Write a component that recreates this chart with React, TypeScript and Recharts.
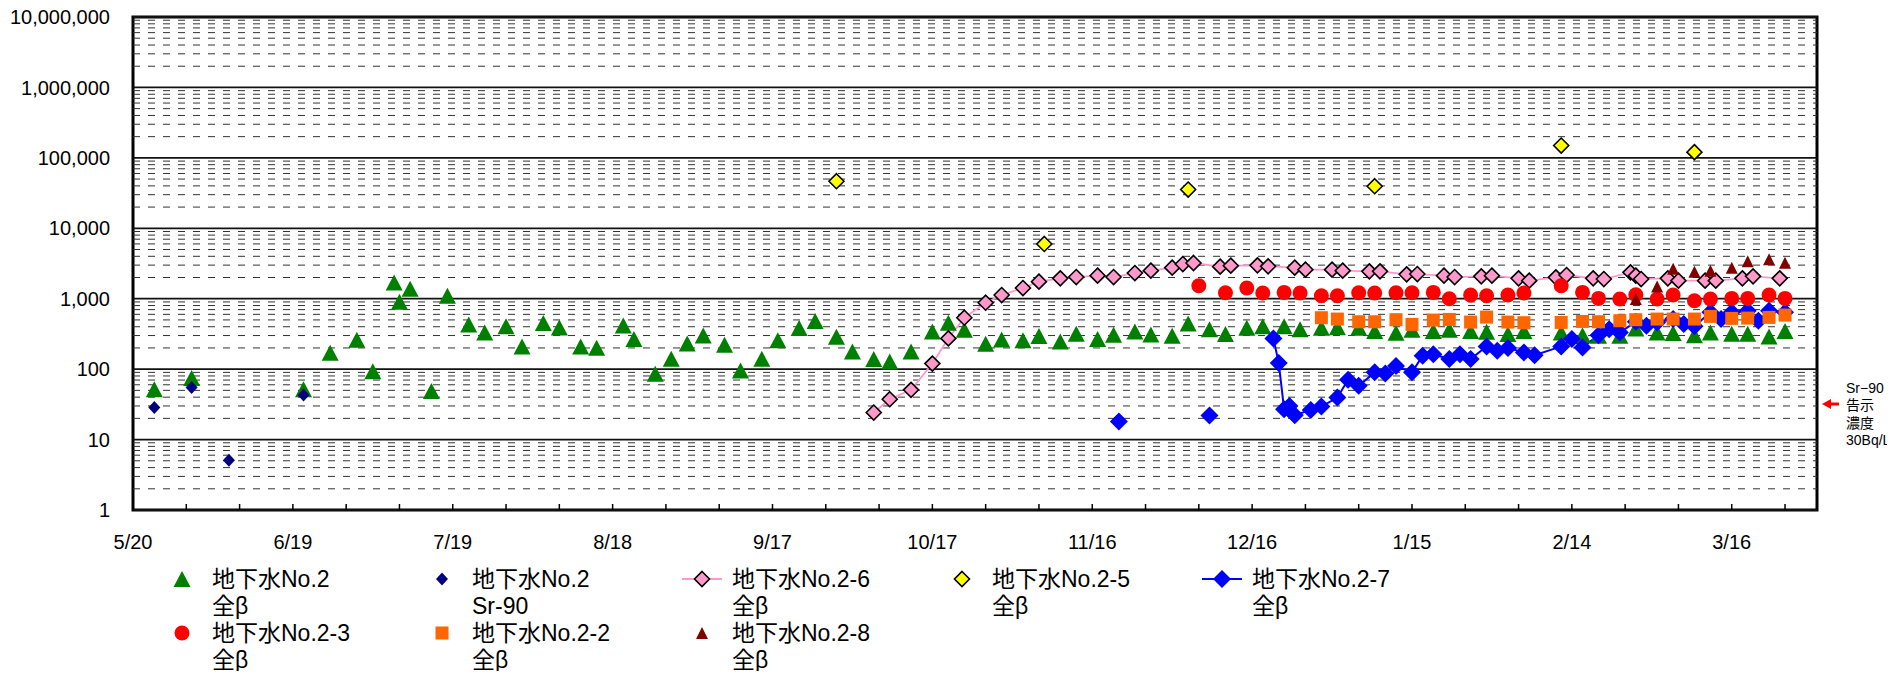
import { ComposedChart, Line, Scatter, XAxis, YAxis, ReferenceLine, ReferenceArea } from 'recharts';

// Sampling dates (M/D, May–Dec 2013, Jan–Mar 2014) and measured values in Bq/L
const no2BetaDates = [
  '5/24', '5/31', '6/21', '6/26', '7/1', '7/4', '7/8', '7/9', '7/11', '7/15', '7/18', '7/22', '7/25', '7/29',
  '8/1', '8/5', '8/8', '8/12', '8/15', '8/20', '8/22', '8/26', '8/29', '9/1', '9/4', '9/8', '9/11', '9/15',
  '9/18', '9/22', '9/25', '9/29', '10/2', '10/6', '10/9', '10/13', '10/17', '10/20', '10/23', '10/27', '10/30',
  '11/3', '11/6', '11/10', '11/13', '11/17', '11/20', '11/24', '11/27', '12/1', '12/4', '12/8', '12/11', '12/15',
  '12/18', '12/22', '12/25', '12/29', '1/1', '1/5', '1/8', '1/12', '1/15', '1/19', '1/22', '1/26', '1/29', '2/2',
  '2/5', '2/12', '2/16', '2/19', '2/23', '2/26', '3/2', '3/5', '3/9', '3/12', '3/16', '3/19', '3/23', '3/26',
];
const no2BetaValues = [
  52, 75, 52, 171, 261, 93, 1706, 906, 1387, 49, 1103, 432, 332, 405,
  210, 451, 391, 210, 201, 418, 267, 86, 140, 232, 301, 222, 96, 140,
  258, 383, 481, 288, 178, 139, 128, 178, 343, 456, 362, 230, 264,
  258, 295, 247, 318, 267, 308, 343, 311, 298, 446, 370, 315, 387,
  405, 405, 370, 387, 395, 387, 347, 328, 363, 347, 363, 347, 340, 315,
  347, 332, 304, 298, 298, 379, 332, 325, 304, 332, 318, 318, 291, 347,
];

const no2SrDates = ['5/24', '5/31', '6/7', '6/21'];
const no2SrValues = [28.5, 55, 5.1, 43];

const no26Dates = [
  '10/6', '10/9', '10/13', '10/17', '10/20', '10/23', '10/27', '10/30', '11/3', '11/6', '11/10', '11/13',
  '11/17', '11/20', '11/24', '11/27', '12/1', '12/3', '12/5', '12/10', '12/12', '12/17', '12/19', '12/24',
  '12/26', '12/31', '1/2', '1/7', '1/9', '1/14', '1/16', '1/21', '1/23', '1/28', '1/30', '2/4', '2/6',
  '2/11', '2/13', '2/18', '2/20', '2/25', '2/26', '2/27', '3/4', '3/6', '3/11', '3/13', '3/18', '3/20', '3/25',
];
const no26Values = [
  24.2, 37.4, 50.8, 120, 273, 537, 877, 1128, 1418, 1746, 1945, 2032,
  2124, 2032, 2317, 2500, 2760, 3110, 3215, 2850, 2945, 2980, 2884, 2760,
  2584, 2584, 2500, 2446, 2446, 2218, 2240, 2124, 2032, 2078, 2124, 1945, 1803,
  2010, 2170, 1945, 1904, 2367, 2124, 1904, 1945, 1803, 1803, 1803, 1945, 2078, 1945,
];

const no25Dates = ['9/29', '11/7', '12/4', '1/8', '2/12', '3/9'];
const no25Values = [46600, 5990, 35480, 39550, 149600, 120500];

// null entries break the line between separate campaigns
const no27Dates = [
  '11/21', '11/29', '12/8', '12/14', '12/20', '12/21', '12/22', '12/23', '12/24', '12/27', '12/29', '1/1', '1/3',
  '1/5', '1/8', '1/10', '1/12', '1/15', '1/17', '1/19', '1/22', '1/24', '1/26', '1/29', '1/31', '2/2', '2/5',
  '2/7', '2/12', '2/14', '2/16', '2/19', '2/21', '2/23', '2/26', '2/28', '3/2', '3/5', '3/7', '3/9', '3/12',
  '3/14', '3/16', '3/19', '3/21', '3/23', '3/26',
];
const no27Values = [
  18, null, 21.9, null, 273, 122, 27, 30, 22.2, 26.4, 29.4, 39.5, 70.5,
  58, 90, 87, 111, 90, 155, 163, 139, 163, 139, 210, 182, 199, 173,
  158, 210, 267, 203, 304, 370, 332, 470, 413, 461, 514, 437, 405, 640,
  514, 640, 675, 487, 675, 640,
];

const no23Dates = [
  '12/6', '12/11', '12/15', '12/18', '12/22', '12/25', '12/29', '1/1', '1/5', '1/8', '1/12', '1/15', '1/19',
  '1/22', '1/26', '1/29', '2/2', '2/5', '2/12', '2/16', '2/19', '2/23', '2/26', '3/2', '3/5', '3/9', '3/12',
  '3/16', '3/19', '3/23', '3/26',
];
const no23Values = [
  1531, 1217, 1418, 1204, 1230, 1204, 1103, 1103, 1217, 1204, 1217, 1217, 1230,
  1000, 1128, 1103, 1128, 1204, 1531, 1230, 1011, 989, 1140, 989, 1128, 937, 989,
  1011, 1011, 1128, 1011,
];

const no22Dates = [
  '12/29', '1/1', '1/5', '1/8', '1/12', '1/15', '1/19', '1/22', '1/26', '1/29', '2/2', '2/5', '2/12',
  '2/16', '2/19', '2/23', '2/26', '3/2', '3/5', '3/9', '3/12', '3/16', '3/19', '3/23', '3/26',
];
const no22Values = [
  537, 514, 471, 471, 503, 432, 497, 508, 466, 548, 466, 456, 461,
  476, 471, 487, 503, 514, 514, 514, 561, 526, 531, 543, 586,
];

const no28Dates = ['2/26', '3/2', '3/5', '3/9', '3/12', '3/16', '3/19', '3/23', '3/26'];
const no28Values = [989, 1496, 2670, 2420, 2500, 2760, 3395, 3625, 3250];

const xTickLabels = ['5/20', '6/19', '7/19', '8/18', '9/17', '10/17', '11/16', '12/16', '1/15', '2/14', '3/16'];
const yTicks = [1, 10, 100, 1000, 10000, 100000, 1000000, 10000000];

const START = Date.UTC(2013, 4, 20);
const toDay = (md: string) => {
  const [m, d] = md.split('/').map(Number);
  const year = m >= 5 ? 2013 : 2014;
  return Math.round((Date.UTC(year, m - 1, d) - START) / 86400000);
};
const zip = (dates: string[], values: (number | null)[]) =>
  dates.map((md, i) => ({ day: toDay(md), v: values[i] }));

const majorDays = xTickLabels.map(toDay);
const dayTicks: number[] = [];
for (let d = 0; d <= 310; d += 10) dayTicks.push(d);

const minorGrid: number[] = [];
yTicks.slice(0, -1).forEach((t) => {
  for (let k = 2; k <= 9; k++) minorGrid.push(t * k);
});

const FONT = '"Liberation Sans", Arial, "Noto Sans CJK JP", sans-serif';
const JP_FONT = '"Liberation Sans", "Noto Sans CJK JP", sans-serif';

type MarkerStyle = {
  shape: 'triangle' | 'diamond' | 'circle' | 'square';
  w: number;
  h: number;
  fill: string;
  stroke?: string;
  strokeWidth?: number;
};

const Marker = ({ cx, cy, m }: { cx: number; cy: number; m: MarkerStyle }) => {
  if (cx == null || cy == null || Number.isNaN(cy)) return <g />;
  const { w, h } = m;
  const common = { fill: m.fill, stroke: m.stroke ?? 'none', strokeWidth: m.strokeWidth ?? 0 };
  if (m.shape === 'triangle') {
    return <polygon points={`${cx},${cy - h / 2} ${cx + w / 2},${cy + h / 2} ${cx - w / 2},${cy + h / 2}`} {...common} />;
  }
  if (m.shape === 'diamond') {
    return <polygon points={`${cx},${cy - h / 2} ${cx + w / 2},${cy} ${cx},${cy + h / 2} ${cx - w / 2},${cy}`} {...common} />;
  }
  if (m.shape === 'circle') {
    return <ellipse cx={cx} cy={cy} rx={w / 2} ry={h / 2} {...common} />;
  }
  return <rect x={cx - w / 2} y={cy - h / 2} width={w} height={h} {...common} />;
};

const mGreen: MarkerStyle = { shape: 'triangle', w: 17, h: 16, fill: '#008000' };
const mNavy: MarkerStyle = { shape: 'diamond', w: 12, h: 13, fill: '#000080' };
const mPink: MarkerStyle = { shape: 'diamond', w: 15, h: 15, fill: '#FF99CC', stroke: '#000', strokeWidth: 1.6 };
const mYellow: MarkerStyle = { shape: 'diamond', w: 15, h: 15, fill: '#FFFF00', stroke: '#000', strokeWidth: 1.6 };
const mBlue: MarkerStyle = { shape: 'diamond', w: 18, h: 18, fill: '#0000FF' };
const mRed: MarkerStyle = { shape: 'circle', w: 15, h: 15, fill: '#FF0000' };
const mOrange: MarkerStyle = { shape: 'square', w: 13, h: 13, fill: '#FF6600' };
const mDarkRed: MarkerStyle = { shape: 'triangle', w: 12, h: 12, fill: '#800000' };

const legendItems = [
  { label: ['地下水No.2', '全β'], m: mGreen, line: null, col: 0, row: 0 },
  { label: ['地下水No.2', 'Sr-90'], m: mNavy, line: null, col: 1, row: 0 },
  { label: ['地下水No.2-6', '全β'], m: mPink, line: '#FF99CC', col: 2, row: 0 },
  { label: ['地下水No.2-5', '全β'], m: mYellow, line: null, col: 3, row: 0 },
  { label: ['地下水No.2-7', '全β'], m: mBlue, line: '#0000FF', col: 4, row: 0 },
  { label: ['地下水No.2-3', '全β'], m: mRed, line: null, col: 0, row: 1 },
  { label: ['地下水No.2-2', '全β'], m: mOrange, line: null, col: 1, row: 1 },
  { label: ['地下水No.2-8', '全β'], m: mDarkRed, line: null, col: 2, row: 1 },
];

const DateTick = (props: any) => {
  const { x, y, payload } = props;
  const idx = majorDays.indexOf(payload.value);
  return (
    <g>
      <line x1={x} x2={x} y1={y} y2={y - 6} stroke="#000" strokeWidth={1.5} />
      {idx >= 0 && (
        <text x={x} y={y + 32} dy="0.35em" textAnchor="middle" fontSize={20} fontFamily={FONT} fill="#000">
          {xTickLabels[idx]}
        </text>
      )}
    </g>
  );
};

const ChartLegend = () => (
  <svg width={1887} height={663} style={{ position: 'absolute', left: 0, top: 0, pointerEvents: 'none', overflow: 'visible' }}>
    {legendItems.map((it) => {
      const sx = 174 + it.col * 260;
      const sy = 571 + it.row * 54;
      return (
        <g key={it.label[0] + it.label[1]}>
          {it.line && <line x1={sx - 20} x2={sx + 20} y1={sy} y2={sy} stroke={it.line} strokeWidth={2} />}
          <Marker cx={sx} cy={sy} m={it.m} />
          <text x={sx + 30} y={sy} dy="0.35em" fontSize={23} fontFamily={JP_FONT} fill="#000">
            {it.label[0]}
          </text>
          <text x={sx + 30} y={sy + 27} dy="0.35em" fontSize={23} fontFamily={JP_FONT} fill="#000">
            {it.label[1]}
          </text>
        </g>
      );
    })}
    {/* Sr-90 notification limit, 30 Bq/L */}
    <path d="M1814,396 L1823,391 L1823,394.5 L1831,394.5 L1831,397.5 L1823,397.5 L1823,401 Z" fill="#FF0000" />
    {['Sr−90', '告示', '濃度', '30Bq/L'].map((t, i) => (
      <text key={t} x={1838} y={380 + i * 17.5} dy="0.35em" fontSize={14} fontFamily={JP_FONT} fill="#000">
        {t}
      </text>
    ))}
  </svg>
);

export default function App() {
  return (
    <div style={{ position: 'relative', width: 1879, height: 663 }}>
      <ComposedChart width={1879} height={663} margin={{ top: 9, right: 70, bottom: 101, left: 10 }}>
        <XAxis
          type="number"
          dataKey="day"
          domain={[0, 316]}
          ticks={dayTicks}
          interval={0}
          allowDataOverflow
          axisLine={false}
          tickLine={false}
          tickSize={0}
          tickMargin={0}
          height={60}
          tick={DateTick}
        />
        <YAxis
          type="number"
          scale="log"
          domain={[1, 10000000]}
          ticks={yTicks}
          interval={0}
          allowDataOverflow
          axisLine={false}
          tickLine={false}
          tickSize={8}
          tickMargin={15}
          width={115}
          tickFormatter={(v: number) => v.toLocaleString('en-US')}
          tick={{ fontSize: 20, fill: '#000', fontFamily: FONT }}
        />
        {minorGrid.map((v) => (
          <ReferenceLine key={'m' + v} y={v} stroke="#333" strokeWidth={1} strokeDasharray="7 8" />
        ))}
        {yTicks.map((v) => (
          <ReferenceLine key={'d' + v} y={v} stroke="#111" strokeWidth={1.8} />
        ))}

        <Scatter data={zip(no2BetaDates, no2BetaValues)} dataKey="v" isAnimationActive={false}
          shape={(p: any) => <Marker cx={p.cx} cy={p.cy} m={mGreen} />} />
        <Scatter data={zip(no2SrDates, no2SrValues)} dataKey="v" isAnimationActive={false}
          shape={(p: any) => <Marker cx={p.cx} cy={p.cy} m={mNavy} />} />
        <Line data={zip(no26Dates, no26Values)} dataKey="v" stroke="#FF99CC" strokeWidth={1.8} isAnimationActive={false}
          dot={(p: any) => <Marker key={'p' + p.index} cx={p.cx} cy={p.cy} m={mPink} />} activeDot={false} />
        <Scatter data={zip(no25Dates, no25Values)} dataKey="v" isAnimationActive={false}
          shape={(p: any) => <Marker cx={p.cx} cy={p.cy} m={mYellow} />} />
        <Line data={zip(no27Dates, no27Values)} dataKey="v" stroke="#0000FF" strokeWidth={2} isAnimationActive={false}
          dot={(p: any) => <Marker key={'b' + p.index} cx={p.cx} cy={p.value == null ? NaN : p.cy} m={mBlue} />} activeDot={false} />
        <Scatter data={zip(no23Dates, no23Values)} dataKey="v" isAnimationActive={false}
          shape={(p: any) => <Marker cx={p.cx} cy={p.cy} m={mRed} />} />
        <Scatter data={zip(no22Dates, no22Values)} dataKey="v" isAnimationActive={false}
          shape={(p: any) => <Marker cx={p.cx} cy={p.cy} m={mOrange} />} />
        <Scatter data={zip(no28Dates, no28Values)} dataKey="v" isAnimationActive={false}
          shape={(p: any) => <Marker cx={p.cx} cy={p.cy} m={mDarkRed} />} />

        <ReferenceArea x1={0} x2={316} y1={1} y2={10000000} fill="none" stroke="#000" strokeWidth={3} ifOverflow="visible" />
      </ComposedChart>
      <ChartLegend />
    </div>
  );
}
